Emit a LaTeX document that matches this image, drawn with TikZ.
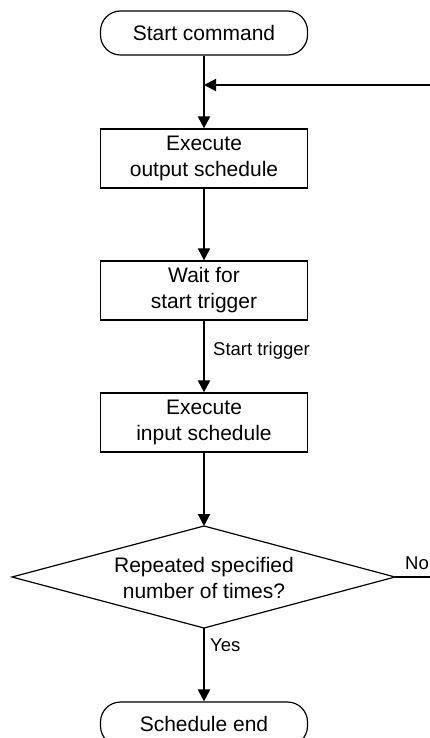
\documentclass[tikz,border=0pt]{standalone}
\usepackage{fontspec}
\setmainfont{Liberation Sans}
\usetikzlibrary{arrows.meta}
\begin{document}
\begin{tikzpicture}[x=1pt,y=-1pt,
  every node/.style={font=\fontsize{21}{26}\selectfont},
  term/.style={draw, line width=1.2pt, rounded corners=20pt, minimum width=207pt, minimum height=44pt, inner sep=0pt},
  proc/.style={draw, line width=1.2pt, minimum width=207pt, minimum height=59pt, align=center, inner sep=0pt},
  conn/.style={line width=2pt, -{Triangle[length=12pt,width=12pt]}},
  plain/.style={line width=2pt},
  lbl/.style={font=\fontsize{18.5}{22}\selectfont, inner sep=0pt, anchor=west}
]
\useasboundingbox (0,0) rectangle (430,738);
\clip (0,0) rectangle (430,738);
\node[term] (start) at (204,33) {Start command};
\node[proc] (out) at (204,158.5) {Execute\\output schedule};
\node[proc] (wait) at (204,290.5) {Wait for\\start trigger};
\node[proc] (in) at (204,422.5) {Execute\\input schedule};
\coordinate (dtop) at (204,526);
\coordinate (dbot) at (204,628);
\coordinate (dleft) at (12,577);
\coordinate (dright) at (395,577);
\draw[line width=1.2pt, line join=miter] (dtop) -- (dright) -- (dbot) -- (dleft) -- cycle;
\node[align=center, inner sep=0pt] (dec) at (204,578) {Repeated specified\\number of times?};
\node[term] (end) at (204,724) {Schedule end};
\coordinate (join) at (204,85);
\coordinate (noend) at (470,577);
\coordinate (fbr) at (470,85);
\draw[conn] (start.south) -- (out.north);
\draw[conn] (out.south) -- (wait.north);
\draw[conn] (wait.south) -- (in.north);
\draw[conn] (in.south) -- (dtop);
\draw[conn] (dbot) -- (end.north);
\draw[conn] (dright) -- (noend) -- (fbr) -- (join);
\node[lbl] (trig) at (213,351) {Start trigger};
\node[lbl] (no) at (405,563) {No};
\node[lbl] (yes) at (210,645) {Yes};
\end{tikzpicture}
\end{document}
